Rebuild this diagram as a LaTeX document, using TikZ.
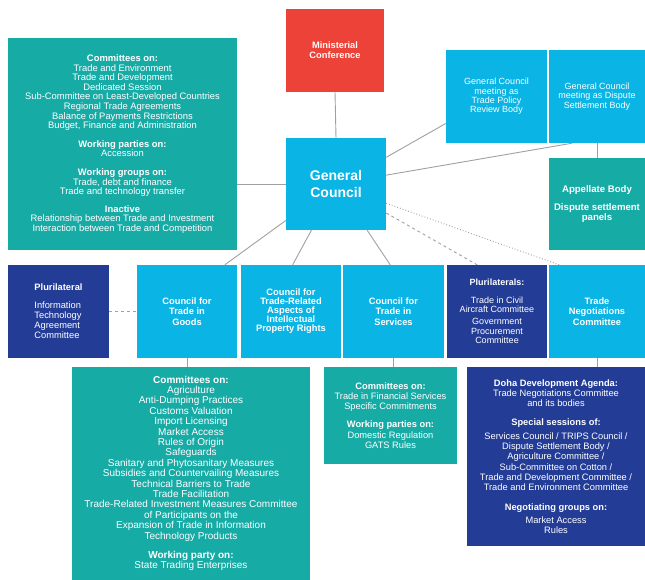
\documentclass[tikz,border=0pt]{standalone}
\usepackage{fontspec}
\setmainfont{Liberation Sans}
\definecolor{mcred}{RGB}{236,66,55}
\definecolor{gccyan}{RGB}{10,180,228}
\definecolor{bodyteal}{RGB}{23,171,166}
\definecolor{plurnavy}{RGB}{35,60,150}
\definecolor{linkgray}{RGB}{160,160,160}

\begin{document}
\begin{tikzpicture}[%
      x=1pt, y=-1pt,
      box/.style={inner sep=0pt, text=white, align=center,
        font=\fontsize{9.3}{10.3}\selectfont},
      redbox/.style={box, fill=mcred},
      cyanbox/.style={box, fill=gccyan},
      tealbox/.style={box, fill=bodyteal},
      navybox/.style={box, fill=plurnavy},
      link/.style={color=linkgray, line width=0.9pt},
      ]
      \useasboundingbox (0,0) rectangle (645,580);

      \node[redbox, minimum width=98, minimum height=83, font=\fontsize{9.3}{10.3}\selectfont\bfseries]
        (mc) at (335,50.5) {Ministerial\\Conference};
      \node[cyanbox, minimum width=100, minimum height=92, font=\fontsize{14}{17}\selectfont\bfseries]
        (gc) at (336,184) {General\\Council};
      \node[cyanbox, minimum width=101, minimum height=93, font=\fontsize{9}{9.4}\selectfont]
        (tprb) at (496.5,96.5) {General Council\\meeting as\\Trade Policy\\Review Body};
      \node[cyanbox, minimum width=96, minimum height=93, font=\fontsize{9}{9.4}\selectfont]
        (dsb) at (597,96.5) {General Council\\meeting as Dispute\\Settlement Body};
      \node[tealbox, minimum width=96, minimum height=92, font=\fontsize{9.6}{10.3}\selectfont\bfseries]
        (app) at (597,204) {Appellate Body\\[8pt]Dispute settlement\\panels};

      \node[tealbox, minimum width=229, minimum height=212, font=\fontsize{9.4}{9.6}\selectfont]
        (gcbodies) at (122.5,144) {\textbf{Committees on:}\\
        Trade and Environment\\
        Trade and Development\\
        Dedicated Session\\
        Sub-Committee on Least-Developed Countries\\
        Regional Trade Agreements\\
        Balance of Payments Restrictions\\
        Budget, Finance and Administration\\[9pt]
        \textbf{Working parties on:}\\
        Accession\\[9pt]
        \textbf{Working groups on:}\\
        Trade, debt and finance\\
        Trade and technology transfer\\[8pt]
        \textbf{Inactive}\\
        Relationship between Trade and Investment\\
        Interaction between Trade and Competition};

      \node[navybox, minimum width=101, minimum height=93, align=left]
        (ita) at (58.5,311.5) {\textbf{Plurilateral}\\[7pt]
        Information\\Technology\\Agreement\\Committee};
      \node[cyanbox, minimum width=100, minimum height=93, font=\fontsize{9.3}{10.3}\selectfont\bfseries]
        (goods) at (187,311.5) {Council for\\Trade in\\Goods};
      \node[cyanbox, minimum width=100, minimum height=93, font=\fontsize{9.3}{9}\selectfont\bfseries]
        (trips) at (291,311.5) {Council for\\Trade-Related\\Aspects of\\Intellectual\\Property Rights};
      \node[cyanbox, minimum width=101, minimum height=93, font=\fontsize{9.3}{10.3}\selectfont\bfseries]
        (serv) at (393.5,311.5) {Council for\\Trade in\\Services};
      \node[navybox, minimum width=100, minimum height=93, font=\fontsize{9}{9.4}\selectfont]
        (plurs) at (497,311.5) {\textbf{Plurilaterals:}\\[8pt]
        Trade in Civil\\Aircraft Committee\\[3pt]
        Government\\Procurement\\Committee};
      \node[cyanbox, minimum width=96, minimum height=93, font=\fontsize{9.3}{10.3}\selectfont\bfseries]
        (tnc) at (597,311.5) {Trade\\Negotiations\\Committee};

      \node[tealbox, minimum width=238, minimum height=213, font=\fontsize{10}{10.4}\selectfont]
        (goodsbodies) at (191,473.5) {\textbf{Committees on:}\\
        Agriculture\\
        Anti-Dumping Practices\\
        Customs Valuation\\
        Import Licensing\\
        Market Access\\
        Rules of Origin\\
        Safeguards\\
        Sanitary and Phytosanitary Measures\\
        Subsidies and Countervailing Measures\\
        Technical Barriers to Trade\\
        Trade Facilitation\\
        Trade-Related Investment Measures Committee\\
        of Participants on the\\
        Expansion of Trade in Information\\
        Technology Products\\[9pt]
        \textbf{Working party on:}\\
        State Trading Enterprises};
      \node[tealbox, minimum width=133, minimum height=97]
        (servbodies) at (390.5,415.5) {\textbf{Committees on:}\\
        Trade in Financial Services\\
        Specific Commitments\\[8pt]
        \textbf{Working parties on:}\\
        Domestic Regulation\\
        GATS Rules};
      \node[navybox, minimum width=178, minimum height=179]
        (doha) at (556,456.5) {\textbf{Doha Development Agenda:}\\
        Trade Negotiations Committee\\
        and its bodies\\[9pt]
        \textbf{Special sessions of:}\\[3pt]
        Services Council / TRIPS Council /\\
        Dispute Settlement Body /\\
        Agriculture Committee /\\
        Sub-Committee on Cotton /\\
        Trade and Development Committee /\\
        Trade and Environment Committee\\[9pt]
        \textbf{Negotiating groups on:}\\[3pt]
        Market Access\\
        Rules};

      \draw[link] (mc.south) -- (gc.north);
      \draw[link] (gc.west) -- (gc.west -| gcbodies.east);
      \draw[link] (gc.28) -- (tprb.208);
      \draw[link] (gc.10) -- (dsb.242);
      \draw[link] (dsb.south) -- (app.north);
      \draw[link] (gc.216) -- (goods.51);
      \draw[link] (gc.242) -- (trips.88);
      \draw[link] (gc.304) -- (serv.94);
      \draw[link, dashed] (gc.330) -- (plurs.113);
      \draw[link, dotted] (gc.339) -- (tnc.129);
      \draw[link, dashed] (ita.east) -- (goods.west);
      \draw[link] (goods.south) -- (goods.south |- goodsbodies.north);
      \draw[link] (serv.south) -- (serv.south |- servbodies.north);
      \draw[link] (tnc.south) -- (tnc.south |- doha.north);
      \end{tikzpicture}
\end{document}
